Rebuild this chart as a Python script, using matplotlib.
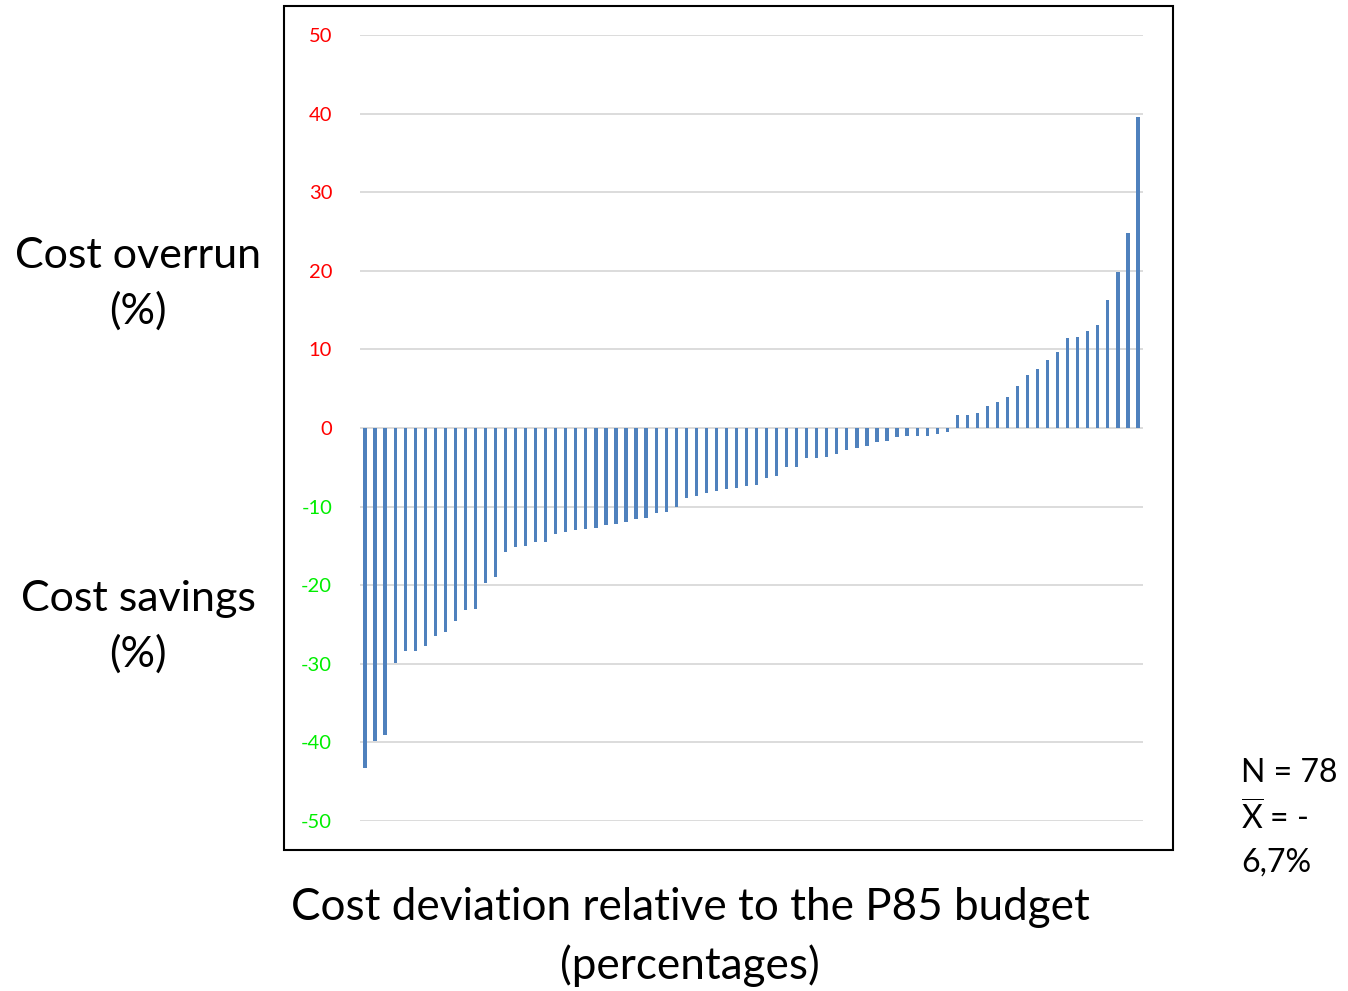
import matplotlib
matplotlib.use("Agg")
import matplotlib.pyplot as plt
from matplotlib.patches import Rectangle

# Cost deviation per project (%), sorted ascending
deviations = [
    -43.3, -39.8, -39.0, -29.9, -28.4, -28.4, -27.7, -26.5, -26.0, -24.6,
    -23.2, -23.0, -19.7, -19.0, -15.8, -15.1, -15.0, -14.5, -14.5, -13.5,
    -13.2, -13.0, -12.9, -12.7, -12.4, -12.2, -12.0, -11.6, -11.4, -10.8,
    -10.7, -10.1, -8.9, -8.6, -8.3, -8.0, -7.8, -7.6, -7.4, -7.2,
    -6.3, -6.1, -5.0, -4.9, -3.8, -3.8, -3.7, -3.3, -2.8, -2.5,
    -2.3, -1.8, -1.6, -1.2, -1.0, -1.0, -1.0, -0.8, -0.5, 1.7,
    1.7, 1.9, 2.8, 3.3, 4.0, 5.3, 6.8, 7.5, 8.7, 9.7,
    11.4, 11.6, 12.4, 13.1, 16.3, 19.8, 24.8, 39.6,
]
y_ticks = [-50, -40, -30, -20, -10, 0, 10, 20, 30, 40, 50]
y_label_top = "Cost overrun\n(%)"
y_label_bottom = "Cost savings\n(%)"
x_title = "Cost deviation relative to the P85 budget\n(percentages)"
stats_lines = ["N = 78", r"$\overline{\mathrm{X}}$ = -", "6,7%"]

plt.rcParams['font.family'] = ['Lato', 'DejaVu Sans']
plt.rcParams['mathtext.fontset'] = 'custom'
plt.rcParams['mathtext.rm'] = 'Lato'

W, H = 1348, 991
fig = plt.figure(figsize=(W / 100, H / 100), dpi=100)

def fx(px):
    return px / W

def fy(py):
    return 1 - py / H

ax = fig.add_axes([fx(360), fy(821), fx(1143) - fx(360), fy(35) - fy(821)])
x = list(range(len(deviations)))
ax.bar(x, deviations, width=0.32, color='#4f81bd', zorder=3)
ax.set_xlim(-0.5, len(deviations) - 0.5)
ax.set_ylim(-50, 50)
ax.set_yticks(y_ticks)
ax.set_yticklabels([str(t) for t in y_ticks])
for lab, t in zip(ax.get_yticklabels(), y_ticks):
    lab.set_color('#ff0000' if t >= 0 else '#00ee00')
    lab.set_fontsize(14.5)
ax.tick_params(axis='y', length=0, pad=20)
ax.set_xticks([])
ax.grid(axis='y', color='#d9d9d9', linewidth=1.3, zorder=0)
for s in ax.spines.values():
    s.set_visible(False)

# outer chart border
fig.patches.append(Rectangle((fx(284), fy(850)), fx(1173) - fx(284), fy(6) - fy(850),
                             transform=fig.transFigure, fill=False,
                             edgecolor='black', linewidth=1.5))

fig.text(fx(138), fy(284), y_label_top, ha='center', va='center',
         fontsize=31, linespacing=1.5)
fig.text(fx(138), fy(627), y_label_bottom, ha='center', va='center',
         fontsize=31, linespacing=1.5)
fig.text(fx(690), fy(937), x_title, ha='center', va='center',
         fontsize=31.7, linespacing=1.5)
for i, line in enumerate(stats_lines):
    fig.text(fx(1241), fy(773 + 45 * i), line, ha='left', va='center', fontsize=23)

fig.savefig('out.png', dpi=100)
